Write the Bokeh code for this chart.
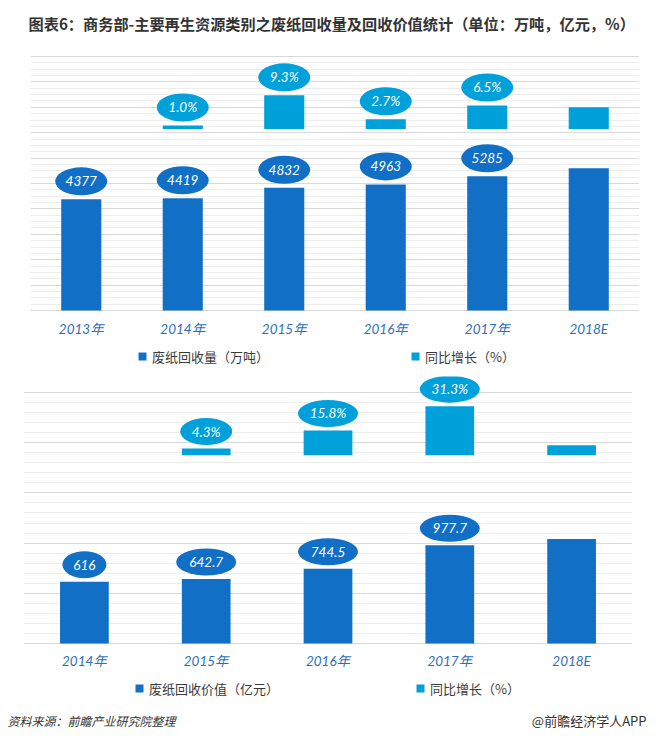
from bokeh.plotting import figure
from bokeh.models import (FactorRange, Range1d, Grid, FixedTicker, Legend,
                          LegendItem, ColumnDataSource)
from bokeh.layouts import column
from bokeh.embed import file_html
from bokeh.resources import INLINE
from bokeh.core.properties import value

# ---------------- data ----------------
title_text = "图表6：商务部-主要再生资源类别之废纸回收量及回收价值统计（单位：万吨，亿元，%）"

years_top = ["2013年", "2014年", "2015年", "2016年", "2017年", "2018E"]
volume = [4377, 4419, 4832, 4963, 5285, 5600]
volume_growth = [float("nan"), 1.0, 9.3, 2.7, 6.5, 6.0]
volume_labels = ["4377", "4419", "4832", "4963", "5285", ""]
volume_growth_labels = ["", "1.0%", "9.3%", "2.7%", "6.5%", ""]
legend_top = ["废纸回收量（万吨）", "同比增长（%）"]

years_bottom = ["2014年", "2015年", "2016年", "2017年", "2018E"]
value_yi = [616, 642.7, 744.5, 977.7, 1040]
value_growth = [float("nan"), 4.3, 15.8, 31.3, 6.4]
value_labels = ["616", "642.7", "744.5", "977.7", ""]
value_growth_labels = ["", "4.3%", "15.8%", "31.3%", ""]
legend_bottom = ["废纸回收价值（亿元）", "同比增长（%）"]

source_text = "资料来源：前瞻产业研究院整理"
brand_text = "@前瞻经济学人APP"

# axis scales
top_v_max, top_v_major, top_v_minor = 10000, 1000, 250
top_g_min, top_g_max = -50, 20
bot_v_max, bot_v_major, bot_v_minor = 2500, 500, 100
bot_g_min, bot_g_max = -120, 40

# ---------------- style ----------------
W = 656
C_VOL = "#1170c6"
C_GR = "#00a0da"
GRID_MAJOR = "#d9d9d9"
GRID_MINOR = "#ededed"
XLAB_COLOR = "#2f6fba"
TEXT_DARK = "#3a3a3a"
CJK = "Noto Sans CJK SC"
NUM_FONT = "Lato, Noto Sans CJK SC"
NAN = float("nan")


def no_align(f):
    if "frame_align" in f.properties():
        f.frame_align = False
    return f


def blank_fig(height):
    f = figure(width=W, height=height, x_range=Range1d(0, W),
               y_range=Range1d(0, height), x_axis_type=None,
               y_axis_type=None, output_backend="svg",
               toolbar_location=None, min_border=0)
    f.outline_line_color = None
    f.background_fill_color = "white"
    f.border_fill_color = "white"
    return no_align(f)


def legend_strip(height, labels, x0, vy, spacing):
    f = blank_fig(height)
    # legend keys only (a single undrawn point each)
    rs = [f.scatter(x=[NAN], y=[NAN], marker="square", size=8,
                    fill_color=c, line_color=None) for c in (C_VOL, C_GR)]
    leg = Legend(items=[LegendItem(label=t, renderers=[r])
                        for t, r in zip(labels, rs)],
                 orientation="horizontal", location=(x0, vy),
                 glyph_width=20, glyph_height=20, label_height=20,
                 label_standoff=-3, spacing=spacing, padding=0, margin=0,
                 border_line_color=None, background_fill_alpha=0,
                 label_text_font=CJK, label_text_font_size="13px",
                 label_text_color=TEXT_DARK)
    f.add_layout(leg)
    return f


def make_chart(cats, vals, growth, v_labels, g_labels,
               height, b_left, b_right, b_top, b_bottom,
               grid_px, extra_top, extra_bot, v_max, v_major, v_minor,
               g_min, g_max, bar_w, gap_px, ell_h, xlab_standoff):
    v_pp = v_max / grid_px
    g_pp = (g_max - g_min) / grid_px
    p = figure(width=W, height=height,
               x_range=FactorRange(factors=cats),
               y_range=Range1d(-extra_bot * v_pp, v_max + extra_top * v_pp),
               y_axis_type=None,
               output_backend="svg", toolbar_location=None,
               min_border_left=b_left, min_border_right=b_right,
               min_border_top=b_top, min_border_bottom=b_bottom)
    no_align(p)
    p.extra_y_ranges = {"g": Range1d(g_min - extra_bot * g_pp,
                                     g_max + extra_top * g_pp)}
    p.outline_line_color = None
    p.xgrid.visible = False
    p.background_fill_color = "white"
    p.border_fill_color = "white"

    majors = list(range(0, v_max + 1, v_major))
    minors = [m for m in range(0, v_max + 1, v_minor) if m % v_major != 0]
    p.add_layout(Grid(dimension=1,
                      ticker=FixedTicker(ticks=majors, minor_ticks=minors),
                      grid_line_color=GRID_MAJOR,
                      minor_grid_line_color=GRID_MINOR))

    p.vbar(x=cats, top=vals, width=bar_w, fill_color=C_VOL, line_color=None)
    p.vbar(x=cats, top=growth, bottom=0, width=bar_w, fill_color=C_GR,
           line_color=None, y_range_name="g")

    # value bubbles
    for series, labels, per_px, color, rng in (
            (vals, v_labels, v_pp, C_VOL, "default"),
            (growth, g_labels, g_pp, C_GR, "g")):
        idx = [i for i, t in enumerate(labels) if t]
        src = ColumnDataSource(dict(
            x=[cats[i] for i in idx],
            y=[series[i] + gap_px * per_px for i in idx],
            w=[20 + 8 * len(labels[i]) for i in idx],
            t=[labels[i] for i in idx]))
        p.ellipse(x="x", y="y", width="w", height=ell_h,
                  width_units="screen", height_units="screen",
                  fill_color=color, line_color=None, source=src,
                  y_range_name=rng)
        p.text(x="x", y="y", text="t", text_align="center",
               text_baseline="middle", text_color="white",
               text_font=value("Lato"), text_font_style="italic",
               text_font_size="13.5px", source=src, y_range_name=rng)

    ax = p.xaxis[0]
    ax.axis_line_color = None
    ax.major_tick_line_color = None
    ax.minor_tick_line_color = None
    ax.major_tick_out = 0
    ax.major_tick_in = 0
    ax.major_label_standoff = xlab_standoff
    ax.major_label_text_font = NUM_FONT
    ax.major_label_text_font_style = "italic"
    ax.major_label_text_font_size = "13.5px"
    ax.major_label_text_color = XLAB_COLOR
    return p


# header: page y 0..44
p0 = blank_fig(44)
p0.text(x=[28], y=[44 - 22], text=[title_text], text_align="left",
        text_baseline="middle", text_font=value(CJK),
        text_font_style="bold", text_font_size="15.2px",
        text_color="#333333")

# top chart: page y 44..341, frame page y 52..311, x 30..639
p1 = make_chart(years_top, volume, volume_growth, volume_labels,
                volume_growth_labels,
                height=297, b_left=30, b_right=17, b_top=8, b_bottom=30,
                grid_px=254, extra_top=4, extra_bot=1,
                v_max=top_v_max, v_major=top_v_major, v_minor=top_v_minor,
                g_min=top_g_min, g_max=top_g_max, bar_w=0.395, gap_px=18,
                ell_h=28, xlab_standoff=9)
# legend strip: page y 341..376
l1 = legend_strip(35, legend_top, x0=132, vy=10, spacing=136)

# bottom chart: page y 376..672, frame page y 376..644, x 23..632
p2 = make_chart(years_bottom, value_yi, value_growth, value_labels,
                value_growth_labels,
                height=296, b_left=23, b_right=24, b_top=0, b_bottom=28,
                grid_px=251, extra_top=16, extra_bot=1,
                v_max=bot_v_max, v_major=bot_v_major, v_minor=bot_v_minor,
                g_min=bot_g_min, g_max=bot_g_max, bar_w=0.40, gap_px=17,
                ell_h=27, xlab_standoff=8)
# legend strip: page y 672..705
l2 = legend_strip(33, legend_bottom, x0=129, vy=7, spacing=131)

# footer: page y 705..738
p3 = blank_fig(33)
p3.text(x=[7], y=[33 - 15], text=[source_text], text_align="left",
        text_baseline="middle", text_font=value(CJK),
        text_font_style="italic", text_font_size="12px",
        text_color="#333333")
p3.text(x=[646], y=[33 - 15], text=[brand_text], text_align="right",
        text_baseline="middle", text_font=value(CJK),
        text_font_size="13px", text_color="#333333")

layout = column(p0, p1, l1, p2, l2, p3, spacing=0)
open("out.html", "w").write(file_html(layout, INLINE))
